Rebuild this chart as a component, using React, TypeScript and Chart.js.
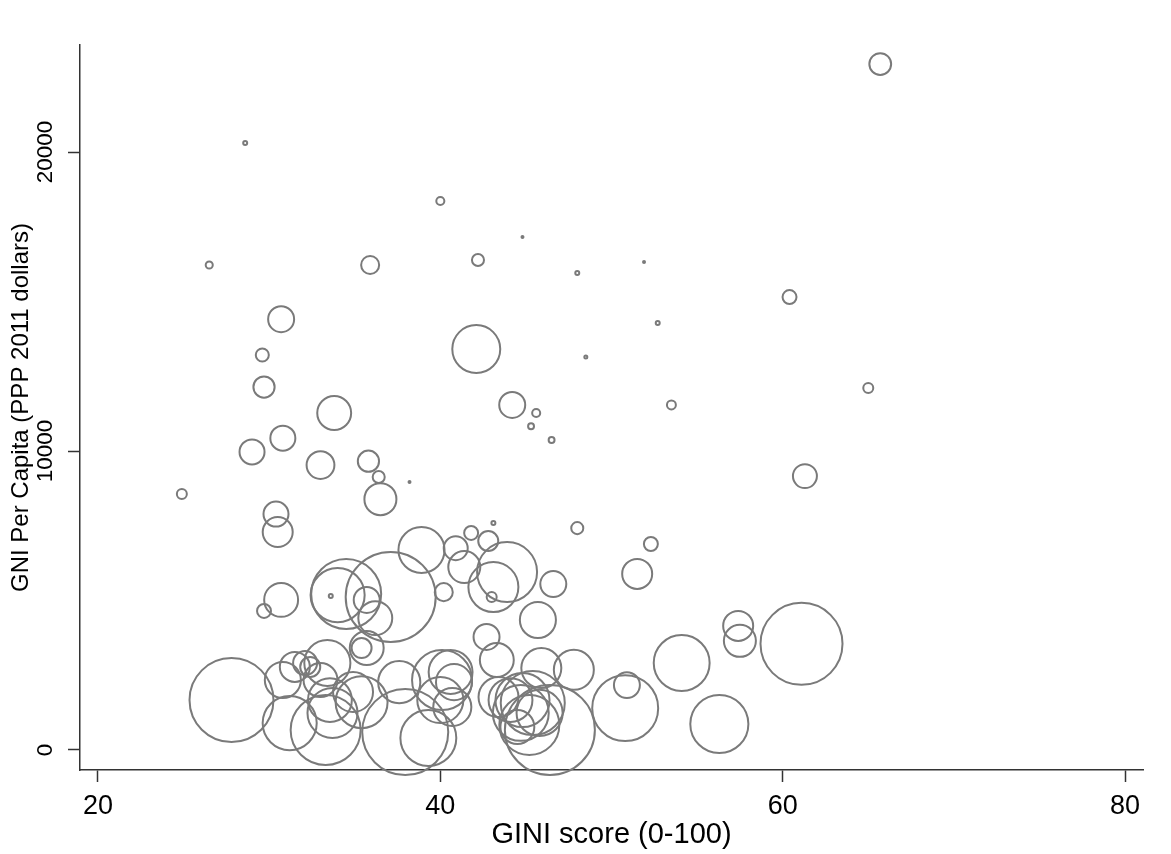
import React, { useEffect, useRef } from 'react';
import { Chart, registerables } from 'chart.js';

Chart.register(...registerables);

// GINI score (0-100)
const gini = [
  65.7, 28.6, 40.0, 44.8, 26.5, 35.9, 42.2, 48.0, 51.9, 60.4,
  30.7, 52.7, 42.1, 29.6, 48.5, 29.7, 65.0, 33.8, 44.2, 53.5,
  45.6, 45.3, 46.5, 30.8, 29.0, 33.0, 35.8, 61.3, 24.9, 36.4,
  38.2, 36.5, 30.4, 30.5, 48.0, 43.1, 41.8, 42.8, 40.9, 38.9,
  52.3, 41.4, 43.9, 43.1, 43.0, 40.2, 46.6, 51.5, 34.0, 34.5,
  33.6, 37.1, 35.7, 36.2, 30.7, 29.7, 45.7, 42.7, 35.4, 35.7,
  27.8, 43.3, 54.1, 57.4, 57.5, 61.1, 45.9, 47.8, 50.9, 50.8,
  56.3, 30.8, 31.5, 33.4, 34.9, 35.4, 31.2, 33.3, 33.7, 37.95,
  37.6, 40.1, 40.6, 40.8, 40.7, 40.0, 39.3, 43.4, 44.1, 44.8,
  45.4, 45.2, 46.4, 44.7, 45.8, 44.5, 32.1, 32.4, 33.0, 33.55,
];

// GNI per capita (PPP 2011 dollars)
const gniPerCapita = [
  22940, 20300, 18360, 17160, 16220, 16220, 16390, 15950, 16320, 15150,
  14410, 14280, 13410, 13210, 13140, 12140, 12110, 11270, 11540, 11540,
  11270, 10830, 10370, 10430, 9970, 9530, 9660, 9160, 8560, 9130,
  8960, 8390, 7890, 7290, 7420, 7590, 7260, 6990, 6750, 6690,
  6890, 6120, 5950, 5450, 5120, 5280, 5550, 5890, 5180, 5220,
  5150, 5120, 5020, 4410, 5020, 4650, 4350, 3780, 3410, 3410,
  1670, 3010, 2910, 4150, 3650, 3550, 2740, 2680, 2170, 1400,
  870, 2340, 2780, 2910, 1940, 1600, 900, 670, 1240, 600,
  2270, 2340, 2610, 2270, 1440, 1670, 400, 1770, 1670, 1670,
  1570, 840, 670, 1240, 1240, 770, 2910, 2780, 2340, 1670,
];

// bubble weights (relative population)
const population = [
  19, 0.64, 2.6, 0.16, 2, 13, 5.8, 0.64, 0.16, 7.8,
  27, 0.64, 92, 6.8, 0.36, 18, 4, 46, 27, 3.2,
  2.6, 1.4, 1.4, 25, 25, 31, 18, 23, 4, 5.8,
  0.16, 41, 25, 36, 5.8, 0.64, 7.8, 16, 23, 85,
  7.8, 41, 144, 100, 4, 13, 27, 36, 117, 196,
  0.64, 324, 27, 46, 46, 7.8, 52, 27, 16, 46,
  282, 46, 125, 36, 41, 269, 64, 64, 27, 174,
  135, 52, 36, 85, 64, 108, 117, 196, 100, 296,
  71, 144, 77, 52, 58, 85, 125, 64, 77, 117,
  164, 144, 324, 125, 85, 46, 23, 16, 46, 77,
];

const xTicks = [20, 40, 60, 80];
const yTicks = [0, 10000, 20000];

const FONT = "'Liberation Sans', Arial, Helvetica, sans-serif";

export default function App() {
  const ref = useRef<HTMLCanvasElement>(null);

  useEffect(() => {
    const points = gini.map((g, i) => ({
      x: g,
      y: gniPerCapita[i],
      r: 2.5 * Math.sqrt(population[i]),
    }));

    const chart = new Chart(ref.current as HTMLCanvasElement, {
      type: 'bubble',
      data: {
        datasets: [
          {
            data: points,
            backgroundColor: 'rgba(0,0,0,0)',
            borderColor: '#7a7a7a',
            borderWidth: 2,
            hoverBorderWidth: 2,
            clip: false,
          } as any,
        ],
      },
      options: {
        animation: false,
        responsive: false,
        devicePixelRatio: 1,
        events: [],
        layout: { autoPadding: false, padding: { left: 0, top: 45, right: 28, bottom: 0 } },
        plugins: {
          legend: { display: false },
          tooltip: { enabled: false },
        },
        scales: {
          x: {
            type: 'linear',
            position: 'bottom',
            min: 18.95,
            max: 81.05,
            afterBuildTicks: (s: any) => {
              s.ticks = xTicks.map((v) => ({ value: v }));
            },
            afterFit: (s: any) => {
              s.height = 84;
              s.paddingLeft = 0;
              s.paddingRight = 0;
            },
            grid: {
              drawOnChartArea: false,
              drawTicks: true,
              tickLength: 12,
              tickColor: '#333',
              tickWidth: 1.5,
            },
            border: { display: true, color: '#333', width: 1.5 },
            ticks: {
              font: { family: FONT, size: 27 },
              color: '#000',
              padding: 8,
              maxRotation: 0,
              autoSkip: false,
              callback: (v: any) => String(v),
            },
            title: {
              display: true,
              text: 'GINI score (0-100)',
              font: { family: FONT, size: 29 },
              color: '#000',
              padding: { top: 0, bottom: 2 },
            },
          },
          y: {
            type: 'linear',
            position: 'left',
            min: -669,
            max: 23579,
            afterBuildTicks: (s: any) => {
              s.ticks = yTicks.map((v) => ({ value: v }));
            },
            afterFit: (s: any) => {
              s.width = 80;
              s.paddingTop = 0;
              s.paddingBottom = 0;
            },
            grid: {
              drawOnChartArea: false,
              drawTicks: true,
              tickLength: 12,
              tickColor: '#333',
              tickWidth: 1.5,
            },
            border: { display: true, color: '#333', width: 1.5 },
            ticks: {
              font: { family: FONT, size: 22.5 },
              color: '#000',
              padding: -9,
              minRotation: 90,
              maxRotation: 90,
              crossAlign: 'center',
              autoSkip: false,
              callback: (v: any) => String(v),
            },
            title: {
              display: true,
              text: 'GNI Per Capita (PPP 2011 dollars)',
              font: { family: FONT, size: 24 },
              color: '#000',
              padding: { top: 7, bottom: 0 },
            },
          },
        },
      } as any,
    });

    return () => chart.destroy();
  }, []);

  return (
    <div
      style={{
        position: 'fixed',
        left: 0,
        top: 0,
        width: 1171,
        height: 854,
        background: '#ffffff',
      }}
    >
      <canvas
        ref={ref}
        width={1171}
        height={854}
        style={{ display: 'block', width: 1171, height: 854 }}
      />
    </div>
  );
}
